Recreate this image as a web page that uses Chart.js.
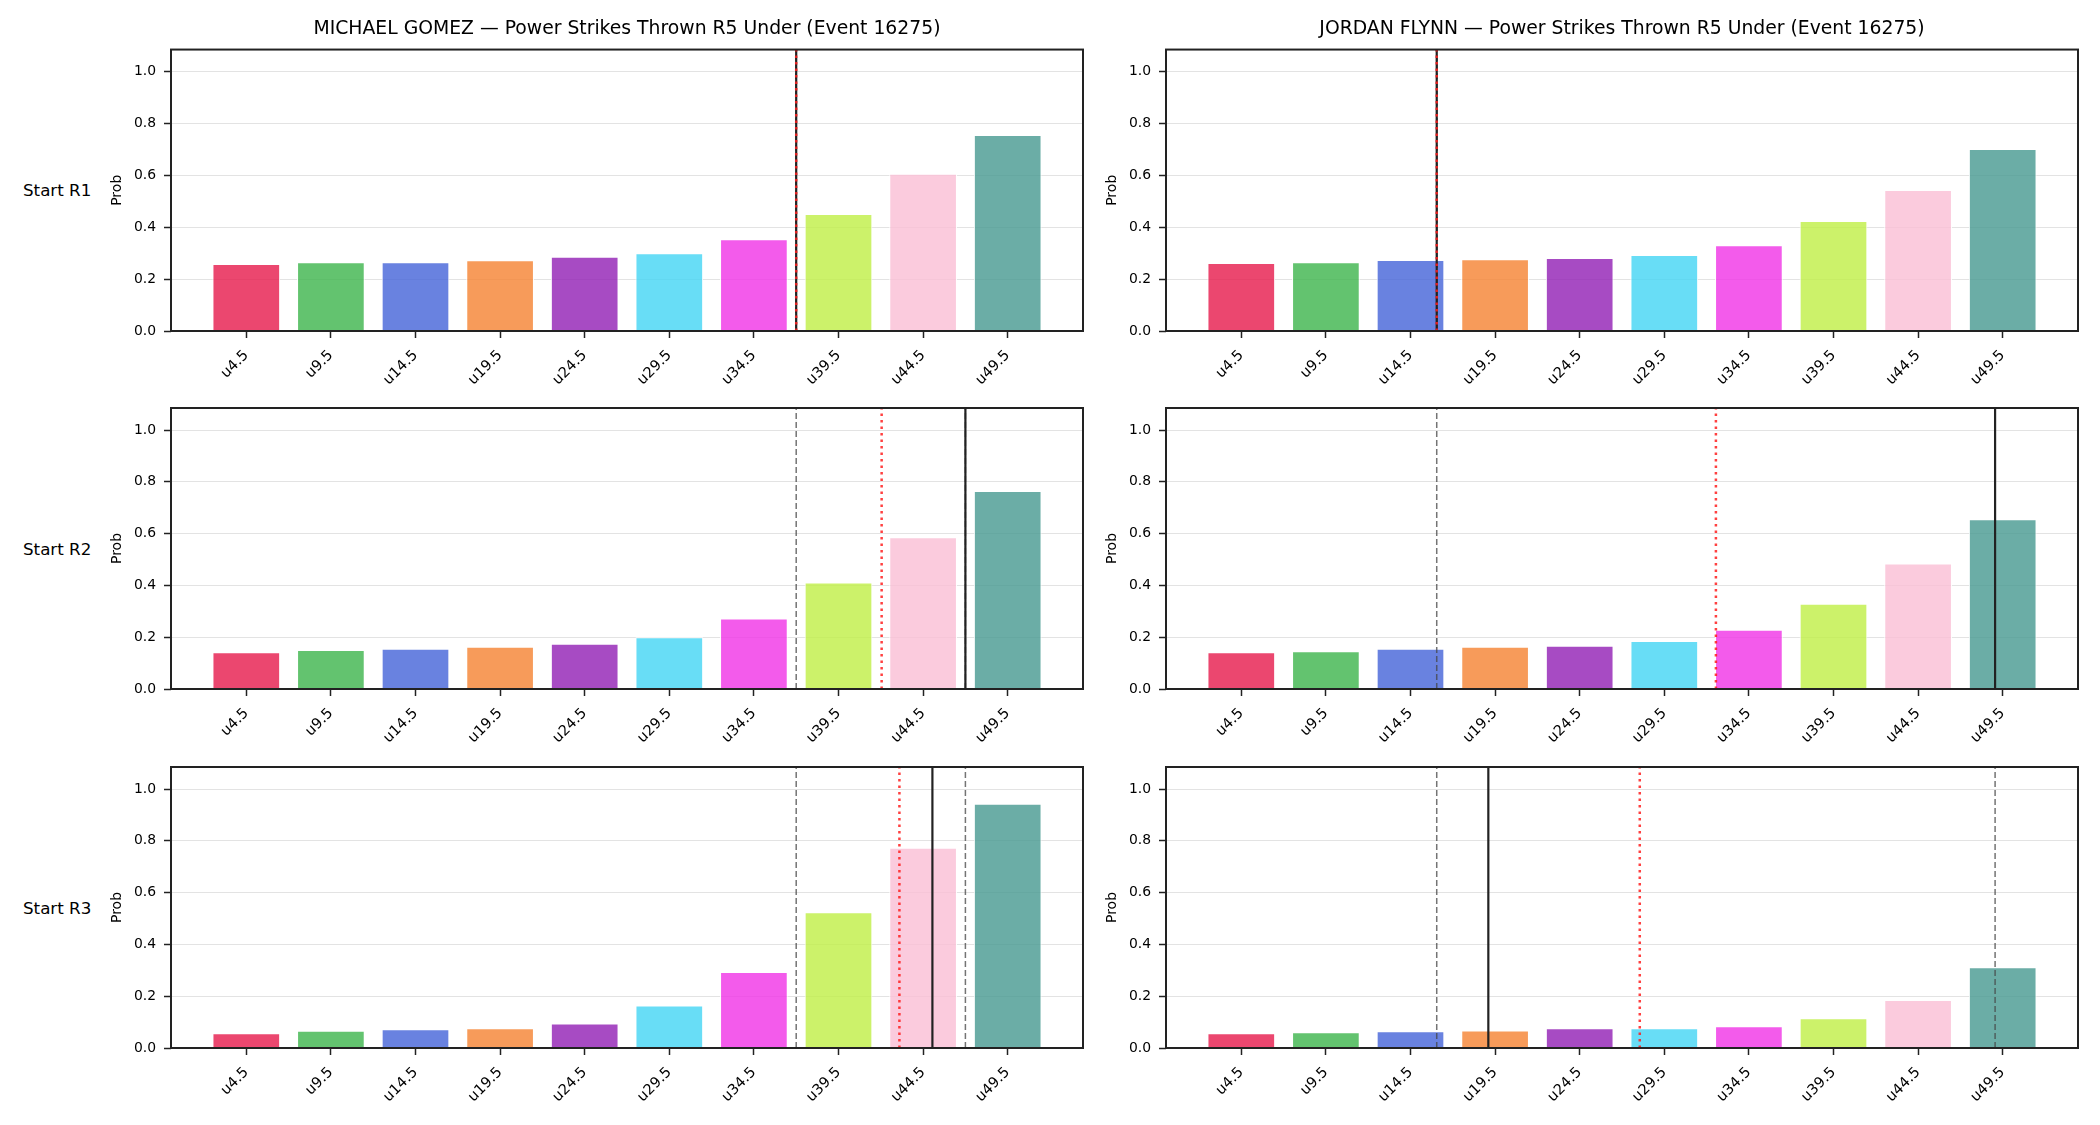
<!DOCTYPE html>
<html>
<head>
	<meta charset="utf-8" />
	<title>Power Strikes Thrown R5 Under (Event 16275)</title>
	<script src="https://cdn.jsdelivr.net/npm/chart.js@4.4.1/dist/chart.umd.min.js"></script>
	<style>
		body { margin: 0; background: #fff; width: 2100px; height: 1125px; position: relative; overflow: hidden;
			font-family: "DejaVu Sans", sans-serif; }
		canvas { position: absolute; }
		.rowlab { position: absolute; left: 23px; font-size: 16.7px; color: #000; transform: translateY(-50%); white-space: nowrap; }
	</style>
</head>
<body>

<div class="rowlab" style="top:190px">Start R1</div>
<div class="rowlab" style="top:549px">Start R2</div>
<div class="rowlab" style="top:908px">Start R3</div>

<canvas id="g1" width="992" height="391" style="left:101px; top:0px"></canvas>
<canvas id="f1" width="992" height="391" style="left:1096px; top:0px"></canvas>
<canvas id="g2" width="992" height="361" style="left:101px; top:388px"></canvas>
<canvas id="f2" width="992" height="361" style="left:1096px; top:388px"></canvas>
<canvas id="g3" width="992" height="371" style="left:101px; top:747px"></canvas>
<canvas id="f3" width="992" height="371" style="left:1096px; top:747px"></canvas>

<script>
// strike lines (categories)
var lines = ["u4.5", "u9.5", "u14.5", "u19.5", "u24.5", "u29.5", "u34.5", "u39.5", "u44.5", "u49.5"]
var yTicks = [0, 0.2, 0.4, 0.6, 0.8, 1.0]

// probabilities, one array per fighter / start round
var gomezR1 = [0.258, 0.265, 0.265, 0.273, 0.286, 0.300, 0.354, 0.451, 0.606, 0.756]
var gomezR2 = [0.142, 0.151, 0.155, 0.163, 0.175, 0.200, 0.272, 0.411, 0.586, 0.765]
var gomezR3 = [0.057, 0.067, 0.072, 0.076, 0.095, 0.164, 0.293, 0.524, 0.773, 0.943]
var flynnR1 = [0.262, 0.265, 0.274, 0.277, 0.281, 0.293, 0.331, 0.424, 0.544, 0.702]
var flynnR2 = [0.142, 0.146, 0.155, 0.163, 0.167, 0.185, 0.229, 0.329, 0.485, 0.655]
var flynnR3 = [0.057, 0.061, 0.065, 0.068, 0.076, 0.076, 0.084, 0.115, 0.185, 0.312]

// marker positions on the category axis (index units), per start round R1..R3
var gomezLo   = [6.5, 6.5, 6.5]
var gomezHi   = [6.5, 8.5, 8.5]
var gomezMid  = [6.5, 8.5, 8.11]
var gomezMkt  = [6.5, 7.51, 7.72]
var flynnLo   = [2.31, 2.31, 2.31]
var flynnHi   = [2.31, 8.91, 8.91]
var flynnMid  = [2.31, 8.91, 2.92]
var flynnMkt  = [2.31, 5.61, 4.71]

var barColors = ["#e6194b", "#3cb44b", "#4363d8", "#f58231", "#911eb4",
	"#42d4f4", "#f032e6", "#bfef45", "#fabed4", "#469990"]

Chart.defaults.font.family = "'DejaVu Sans', sans-serif"
Chart.defaults.color = "#000"

function alpha(hex, a) {
	var r = parseInt(hex.substr(1, 2), 16), g = parseInt(hex.substr(3, 2), 16), b = parseInt(hex.substr(5, 2), 16)
	return "rgba(" + r + "," + g + "," + b + "," + a + ")"
}

// vertical marker lines + axes frame
var markerPlugin = {
	id: "markers",
	afterDatasetsDraw: function(chart, args, opts) {
		var ctx = chart.ctx, xs = chart.scales.x, area = chart.chartArea
		function vline(pos, color, width, dash) {
			var x = xs.getPixelForValue(pos)
			ctx.save()
			ctx.beginPath()
			ctx.strokeStyle = color
			ctx.lineWidth = width
			ctx.setLineDash(dash)
			ctx.moveTo(x, area.bottom)
			ctx.lineTo(x, area.top)
			ctx.stroke()
			ctx.restore()
		}
		vline(opts.lo, "rgba(70,70,70,0.75)", 1.5, [6, 3])
		vline(opts.hi, "rgba(70,70,70,0.75)", 1.5, [6, 3])
		vline(opts.mid, "#222", 2.2, [])
		vline(opts.mkt, "rgba(255,30,30,0.85)", 2.5, [2.5, 4])

		ctx.save()
		ctx.strokeStyle = "#222"
		ctx.lineWidth = 2
		ctx.strokeRect(area.left, area.top, area.right - area.left, area.bottom - area.top)
		ctx.restore()
	}
}

function makePanel(id, title, values, r, lo, hi, mid, mkt, padTop, xHeight) {
	var pts = []
	for (var i = 0; i < values.length; i++) pts.push({x: i, y: values[i]})

	new Chart(id, {
		type: "bar",
		data: {
			datasets: [{
				data: pts,
				backgroundColor: barColors.map(function(c) { return alpha(c, 0.8) }),
				borderColor: "#ffffff",
				borderWidth: 1,
				barPercentage: 0.8,
				categoryPercentage: 1.0
			}]
		},
		options: {
			responsive: false,
			animation: false,
			devicePixelRatio: 1,
			layout: { padding: { top: padTop, right: 10, left: 0, bottom: 0 } },
			plugins: {
				legend: { display: false },
				tooltip: { enabled: false },
				title: {
					display: title !== null,
					text: title,
					fullSize: false,
					color: "#000",
					font: { size: 18.8, weight: "normal" },
					padding: { top: 18, bottom: 9 }
				},
				markers: { lo: lo[r], hi: hi[r], mid: mid[r], mkt: mkt[r] }
			},
			scales: {
				x: {
					type: "linear",
					offset: false,
					min: -0.89,
					max: 9.89,
					afterBuildTicks: function(s) { s.ticks = lines.map(function(l, i) { return {value: i} }) },
					afterFit: function(s) { s.height = xHeight },
					border: { display: false },
					grid: { offset: false, drawOnChartArea: false, drawTicks: true, tickLength: 7, tickWidth: 1.5, tickColor: "#222" },
					ticks: {
						autoSkip: false,
						minRotation: 45,
						maxRotation: 45,
						padding: 9,
						font: { size: 14.5 },
						callback: function(v) { return lines[v] }
					}
				},
				y: {
					min: 0,
					max: 1.085,
					afterBuildTicks: function(s) { s.ticks = yTicks.map(function(v) { return {value: v} }) },
					afterFit: function(s) { s.width = 70 },
					border: { display: false },
					grid: { color: "#e3e3e3", lineWidth: 1, drawTicks: true, tickLength: 7, tickWidth: 1.5, tickColor: "#222" },
					ticks: {
						padding: 8,
						font: { size: 13.9 },
						callback: function(v) { return v.toFixed(1) }
					},
					title: { display: true, text: "Prob", font: { size: 14 }, padding: { top: 8, bottom: 0 } }
				}
			}
		},
		plugins: [markerPlugin]
	})
}

makePanel("g1", "MICHAEL GOMEZ \u2014 Power Strikes Thrown R5 Under (Event 16275)", gomezR1, 0, gomezLo, gomezHi, gomezMid, gomezMkt, 0, 60)
makePanel("f1", "JORDAN FLYNN \u2014 Power Strikes Thrown R5 Under (Event 16275)", flynnR1, 0, flynnLo, flynnHi, flynnMid, flynnMkt, 0, 60)
makePanel("g2", null, gomezR2, 1, gomezLo, gomezHi, gomezMid, gomezMkt, 20, 60)
makePanel("f2", null, flynnR2, 1, flynnLo, flynnHi, flynnMid, flynnMkt, 20, 60)
makePanel("g3", null, gomezR3, 2, gomezLo, gomezHi, gomezMid, gomezMkt, 20, 70)
makePanel("f3", null, flynnR3, 2, flynnLo, flynnHi, flynnMid, flynnMkt, 20, 70)
</script>

</body>
</html>
